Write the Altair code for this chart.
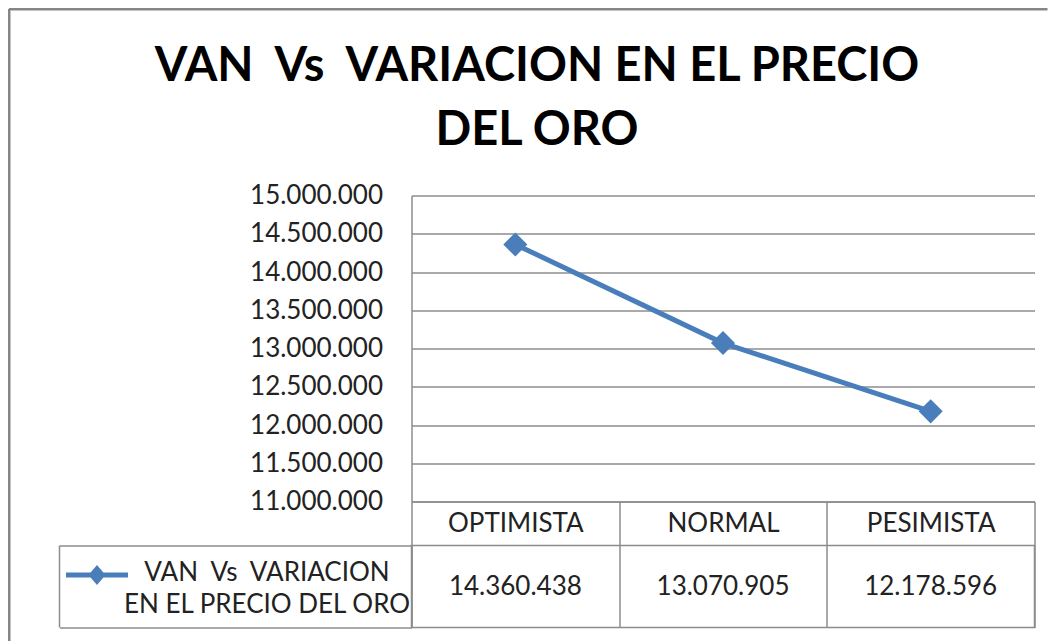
import altair as alt
import pandas as pd

# ---- data ----
categorias = ["OPTIMISTA", "NORMAL", "PESIMISTA"]
van = [14360438, 13070905, 12178596]
serie = "VAN \u00a0Vs \u00a0VARIACION EN EL PRECIO DEL ORO"
serie_lineas = "VAN \u00a0Vs \u00a0VARIACION|EN EL PRECIO DEL ORO"
ticks_y = [11000000, 11500000, 12000000, 12500000, 13000000,
           13500000, 14000000, 14500000, 15000000]
titulo = "VAN \u00a0Vs \u00a0VARIACION EN EL PRECIO"
subtitulo = "DEL ORO"

df = pd.DataFrame({
    "escenario": categorias,
    "van": van,
    "serie": [serie] * len(categorias),
    "fila": [serie_lineas] * len(categorias),
})
uno = pd.DataFrame({"k": [0]})

AZUL = "#4A7EBB"
GRIS = "#8C8C8C"
MARCO = "#868686"
FONT = "Lato"
TXT = "#222222"
W, H_TOP, H_BOT = 623, 306, 82
FMT = "replace(replace(format({v}, ','), ',', '.'), ',', '.')"

band = alt.Scale(type="band", paddingInner=0, paddingOuter=0)

# ---- top: line chart ----
x_top = alt.X(
    "escenario:N", sort=categorias, scale=band,
    axis=alt.Axis(title=None, labelAngle=0, labelFont=FONT, labelFontSize=26,
                  labelColor=TXT, labelBaseline="middle", labelPadding=-22,
                  labelLimit=0, tickBand="extent", ticks=True, tickSize=44,
                  tickColor=GRIS, tickWidth=1.5, domain=True, domainColor=GRIS,
                  domainWidth=1.5, grid=False),
)
y_top = alt.Y(
    "van:Q",
    scale=alt.Scale(domain=[ticks_y[0], ticks_y[-1]], nice=False, zero=False),
    axis=alt.Axis(title=None, values=ticks_y, labelExpr=FMT.format(v="datum.value"),
                  labelFont=FONT, labelFontSize=26, labelColor=TXT, labelPadding=29,
                  ticks=False, domain=True, domainColor=GRIS, domainWidth=1.5,
                  grid=True, gridColor=GRIS, gridWidth=1.5),
)

simbolo = "M-1,0H1M0,-0.2L0.17,0L0,0.2L-0.17,0Z"

linea = alt.Chart(df).mark_line(color=AZUL, strokeWidth=5).encode(x=x_top, y=y_top)
puntos = alt.Chart(df).mark_point(shape="diamond", filled=True, size=580, opacity=1).encode(
    x=x_top, y=y_top,
    color=alt.Color("serie:N", scale=alt.Scale(range=[AZUL]),
                    legend=alt.Legend(title=None, orient="none", legendX=-348, legendY=346,
                                      symbolType=simbolo, symbolSize=3844,
                                      symbolStrokeWidth=5, symbolStrokeColor=AZUL,
                                      symbolFillColor=AZUL, symbolOpacity=1,
                                      labelExpr="''", padding=0)),
)

top = alt.layer(linea, puntos).properties(
    width=W, height=H_TOP,
    view=alt.ViewBackground(stroke="transparent"),
    title=alt.Title(titulo, subtitle=subtitulo, font=FONT, fontSize=47, fontWeight="bold",
                    color="black", subtitleFont=FONT, subtitleFontSize=47,
                    subtitleFontWeight="bold", subtitleColor="black", subtitlePadding=17,
                    anchor="middle", frame="group", dx=-186, offset=28),
)

# ---- bottom: data table row ----
x_bot = alt.X(
    "escenario:N", sort=categorias, scale=band,
    axis=alt.Axis(title=None, labels=False, ticks=False, domain=False, grid=True,
                  gridColor=GRIS, gridWidth=1.5, tickBand="extent"),
)
y_bot = alt.Y(
    "fila:N", scale=band,
    axis=alt.Axis(title=None, labelExpr="split(datum.label, '|')", labelFont=FONT,
                  labelFontSize=26, labelColor=TXT, labelAlign="center",
                  labelBaseline="middle", labelPadding=-207, labelOffset=-14,
                  labelLineHeight=32, labelLimit=0, ticks=True, tickBand="extent",
                  tickSize=352, tickColor=GRIS, tickWidth=1.5, domain=True,
                  domainColor=GRIS, domainWidth=1.5),
)

texto = alt.Chart(df).transform_calculate(
    etiqueta=FMT.format(v="datum.van")
).mark_text(font=FONT, fontSize=26, color=TXT, align="center", baseline="middle").encode(
    x=x_bot, y=y_bot, text="etiqueta:N"
)
borde = alt.Chart(uno).mark_rule(color=GRIS, strokeWidth=1.5).encode(
    x=alt.value(-352), y=alt.value(0), y2=alt.value(H_BOT)
)
# outer chart frame (left and top edges; the others fall outside the picture)
marco_sup = alt.Chart(uno).mark_rule(color=MARCO, strokeWidth=3).encode(
    x=alt.value(-402.5), x2=alt.value(636), y=alt.value(-536.5)
)
marco_izq = alt.Chart(uno).mark_rule(color=MARCO, strokeWidth=3).encode(
    x=alt.value(-402.5), y=alt.value(-536.5), y2=alt.value(100)
)

bottom = alt.layer(texto, borde, marco_sup, marco_izq).properties(
    width=W, height=H_BOT,
    view=alt.ViewBackground(stroke=GRIS, strokeWidth=1.5),
)

chart = alt.vconcat(top, bottom, spacing=44, bounds="flush").resolve_scale(
    x="independent", y="independent", color="independent"
).resolve_legend(color="independent").properties(
    padding={"left": -1.5, "top": -1.5, "right": 0, "bottom": 0}
)

chart.save("out.html", embed_options={"renderer": "svg", "actions": False})
